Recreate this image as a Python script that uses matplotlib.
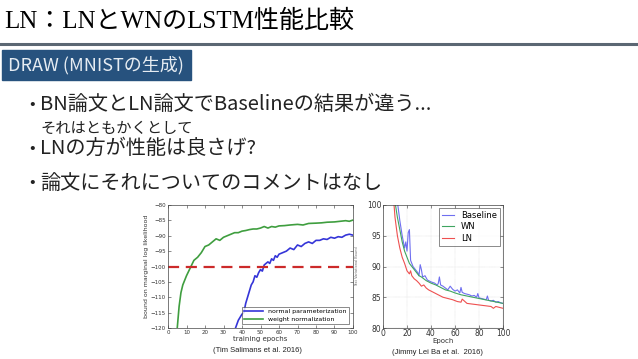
import numpy as np
import matplotlib
matplotlib.use("Agg")
import matplotlib.pyplot as plt
from matplotlib.patches import Rectangle

# ---- data: left chart (Salimans et al.) ----
wn_x = [5, 6, 7, 8, 10, 12, 14, 16, 18, 20, 22, 24, 26, 28, 30, 32, 34, 36, 38, 40,
        42, 44, 46, 48, 50, 52, 54, 56, 58, 60, 63, 66, 70, 73, 76, 80, 83, 86, 90,
        93, 96, 98, 100]
wn_y = [-120, -113, -108.5, -106, -103, -100.5, -98, -97, -95.5, -93.5, -93, -92,
        -91, -91.5, -90.5, -90, -89.5, -89, -89, -88.5, -88.3, -88, -87.8, -87.8,
        -87.5, -87, -87.5, -87, -87.2, -86.8, -86.7, -86.5, -86.3, -86.5, -86,
        -85.9, -85.8, -85.6, -85.5, -85.3, -85.1, -85.3, -84.9]
np_x = [36.5, 38, 40, 41, 42, 43, 44, 45, 46, 47, 48, 49, 50, 51, 52, 53, 54, 55,
        56, 57, 58, 59, 60, 62, 64, 66, 68, 70, 72, 74, 76, 78, 80, 82, 84, 86, 88,
        90, 92, 94, 96, 98, 100]
np_y = [-120, -117.5, -115.5, -115, -112, -110, -108, -106, -105, -103, -103.5,
        -102, -101, -101.5, -99.5, -99, -98.5, -99, -97.5, -98, -96.5, -97, -96,
        -95.5, -95, -94, -94.5, -93, -93.5, -92.5, -92, -92.5, -91.5, -91.5, -91,
        -91.2, -90.5, -90.8, -90.3, -90.5, -89.8, -89.5, -89.8]
ref_level = -100

# ---- data: right chart (Ba et al.) ----
base_x = [12, 14, 16, 18, 19, 20, 21, 22, 23, 25, 27, 29, 30, 31, 32, 33, 35, 37,
          40, 43, 45, 46, 47, 48, 50, 52, 54, 56, 58, 60, 62, 64, 65, 66, 68, 70,
          72, 74, 76, 78, 79, 80, 82, 84, 86, 87, 88, 90, 92, 94, 96, 98, 100]
base_y = [100.5, 97.5, 95, 93, 94, 92.5, 95.5, 96, 91, 90, 89.5, 89, 88.5, 90.3,
          89.5, 88.3, 88.5, 87.8, 87.5, 87.3, 87, 87.2, 88.3, 87, 86.8, 86.5, 86.2,
          86.8, 86.3, 86, 86.2, 85.7, 86.6, 85.8, 85.6, 85.5, 85.4, 85.2, 85.3, 85,
          85.6, 84.9, 84.8, 84.7, 84.6, 85.2, 84.5, 84.4, 84.5, 84.2, 84.3, 84.1, 84]
wn2_x = [10, 12, 14, 16, 18, 20, 22, 24, 26, 28, 30, 32, 34, 36, 38, 40, 44, 48, 52,
         56, 60, 65, 70, 75, 80, 85, 90, 95, 100]
wn2_y = [100.5, 98, 96, 94, 92.5, 91.5, 90.5, 90, 89.5, 89, 88.5, 88.3, 88, 87.7,
         87.5, 87.3, 87, 86.6, 86.2, 86, 85.7, 85.4, 85.2, 85, 84.8, 84.6, 84.4,
         84.2, 84]
ln_x = [9, 10, 11, 12, 14, 16, 18, 20, 22, 23, 24, 26, 28, 30, 32, 34, 36, 38, 40,
        43, 46, 50, 54, 58, 62, 65, 66, 70, 74, 78, 82, 86, 90, 92, 94, 96, 98, 100]
ln_y = [100.5, 98, 96.5, 95, 93, 91.5, 90.5, 89.3, 88.8, 89.3, 88.5, 88, 87.7, 87.3,
        86.8, 87, 86.5, 86.2, 86, 85.7, 85.4, 85, 84.8, 84.6, 84.3, 84.2, 84.7, 84,
        83.9, 83.8, 83.7, 83.6, 83.5, 83.2, 83.5, 83.4, 83.3, 83.2]

title = "LN：LNとWNのLSTM性能比較"
subtitle = "DRAW (MNISTの生成)"
bullets = ["BN論文とLN論文でBaselineの結果が違う...",
           "LNの方が性能は良さげ?",
           "論文にそれについてのコメントはなし"]
aside = "それはともかくとして"

jp = ["Noto Sans CJK JP", "DejaVu Sans"]
W, H = 638, 359
fig = plt.figure(figsize=(W / 100, H / 100), dpi=100)
fig.patch.set_facecolor("white")


def px(x, y):
    return x / W, 1 - y / H


# ---- slide text ----
fig.text(*px(4, 21), title, family=["Liberation Serif", "Noto Sans CJK JP"],
         fontsize=18, va="center", ha="left", color="black")
fig.add_artist(plt.Line2D([0, 1], [1 - 43.5 / H] * 2, color="#5b6773", lw=2.2,
                          transform=fig.transFigure))
fig.add_artist(Rectangle(px(2, 80), 189 / W, 30 / H, color="#27527e",
                         transform=fig.transFigure))
fig.text(*px(8, 65), subtitle, family=jp, fontsize=13, va="center",
         ha="left", color="#e6ecf2")

for y, t in zip([104, 148, 183], bullets):
    fig.text(*px(29, y), "•", family=jp, fontsize=12, va="center", color="#222")
    fig.text(*px(40, y), t, family=jp, fontsize=14.5, va="center", color="#222")
fig.text(*px(40, 128), aside, family=jp, fontsize=11, va="center", color="#222")

# ---- left chart ----
ax1 = fig.add_axes([168 / W, 1 - 328 / H, 185 / W, 123 / H])
ax1.plot(np_x, np_y, color="#3535d8", lw=1.2, label="normal parameterization")
ax1.plot(wn_x, wn_y, color="#3f9e3f", lw=1.2, label="weight normalization")
ax1.axhline(ref_level, color="#cc2a2a", lw=1.6, dashes=(5, 3))
ax1.set_xlim(0, 100)
ax1.set_ylim(-120, -80)
ax1.set_xticks(range(0, 101, 10))
ax1.set_yticks(range(-120, -79, 5))
ax1.tick_params(direction="in", top=True, right=True, labelsize=4,
                length=2, width=0.4, pad=1.5, colors="#333")
for s in ax1.spines.values():
    s.set_linewidth(0.5)
    s.set_color("#444")
ax1.set_xlabel("training epochs", fontsize=5, labelpad=0.5, color="#333")
ax1.set_ylabel("bound on marginal log likelihood", fontsize=4.5, labelpad=1,
               color="#333")
leg = ax1.legend(loc="lower right", fontsize=4.5, handlelength=3,
                 frameon=True, fancybox=False, borderpad=0.4,
                 labelspacing=0.3, borderaxespad=0.6)
leg.get_frame().set_edgecolor("#333")
leg.get_frame().set_linewidth(0.5)
fig.text(*px(257, 351), "(Tim Salimans et al. 2016)", fontsize=5.5,
         ha="center", va="center", family=["Liberation Sans"], color="#222")

# ---- right chart ----
ax2 = fig.add_axes([383 / W, 1 - 328 / H, 120 / W, 123 / H])
ax2.plot(base_x, base_y, color="#6f6ff0", lw=0.8, label="Baseline")
ax2.plot(wn2_x, wn2_y, color="#3fa460", lw=0.8, label="WN")
ax2.plot(ln_x, ln_y, color="#ee5050", lw=0.8, label="LN")
ax2.set_xlim(0, 100)
ax2.set_ylim(80, 100)
ax2.set_xticks(range(0, 101, 20))
ax2.set_yticks(range(80, 101, 5))
ax2.grid(True, color="#bbbbbb", lw=0.3, ls=":")
ax2.tick_params(direction="in", top=True, right=True, labelsize=5.5,
                length=2, width=0.4, pad=1, colors="#333")
for s in ax2.spines.values():
    s.set_linewidth(0.5)
    s.set_color("#444")
ax2.set_xlabel("Epoch", fontsize=5, labelpad=0, color="#333")
ax2.set_ylabel("Test Variational Bound", fontsize=2.5, labelpad=6, color="#666")
leg2 = ax2.legend(loc="upper right", fontsize=6, handlelength=1.5,
                  frameon=True, fancybox=False, borderpad=0.4,
                  labelspacing=0.3, borderaxespad=0.3)
leg2.get_frame().set_edgecolor("#333")
leg2.get_frame().set_linewidth(0.5)
fig.text(*px(437, 352), "(Jimmy Lei Ba et al.  2016)", fontsize=5.5,
         ha="center", va="center", family=["Liberation Sans"], color="#222")

fig.savefig("out.png", dpi=100)
